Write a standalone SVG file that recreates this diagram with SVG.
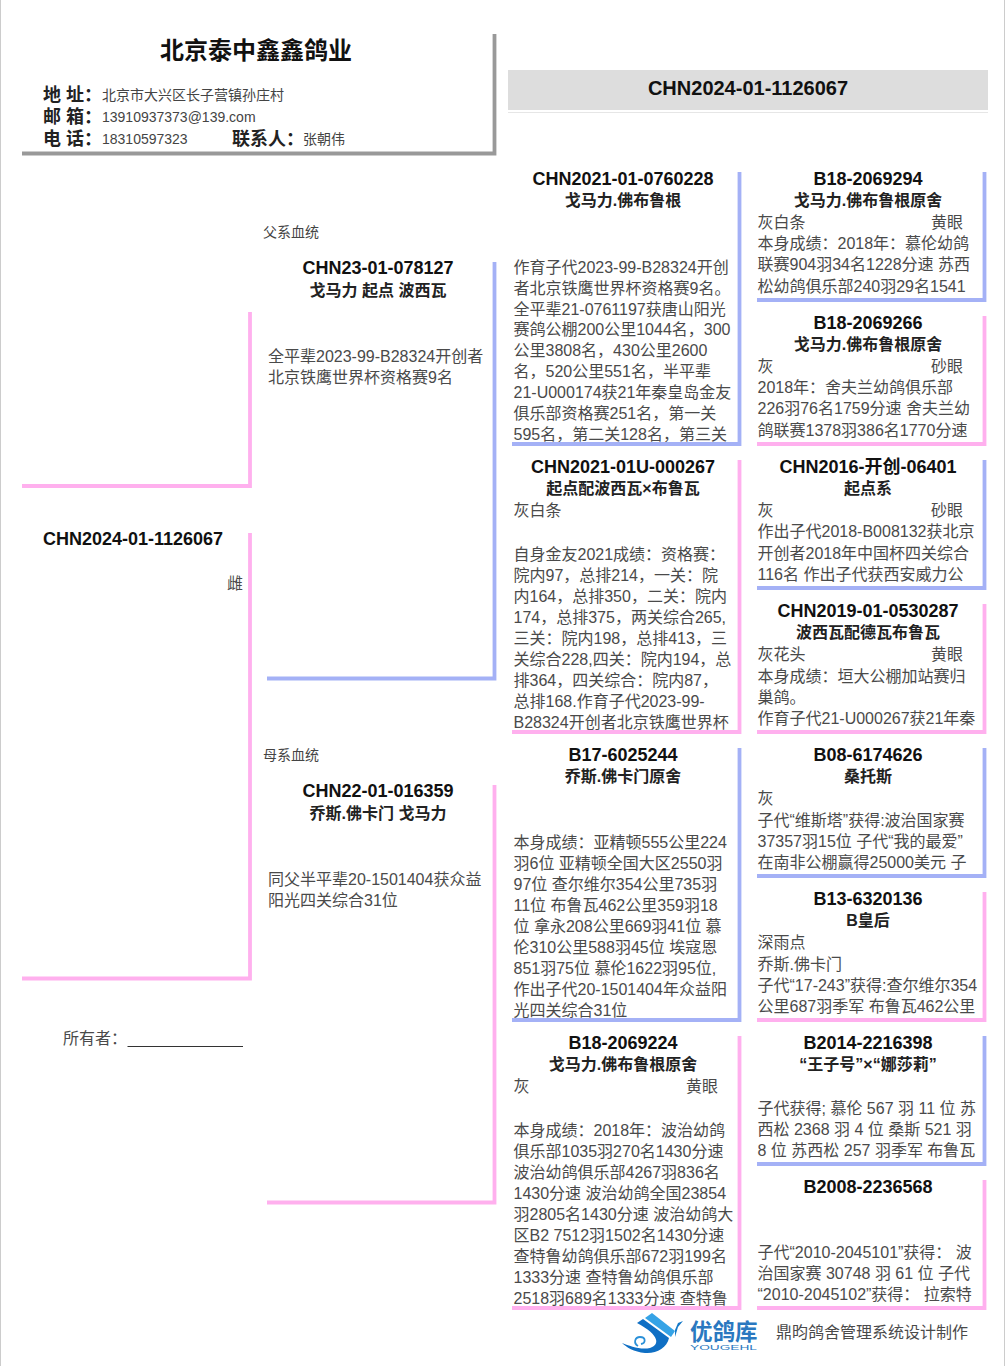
<svg xmlns="http://www.w3.org/2000/svg" width="1006" height="1366" viewBox="0 0 1006 1366">
<style>
text{font-family:"Liberation Sans","Noto Sans CJK SC",sans-serif;fill:#333}
.t{font-size:18px;font-weight:700;fill:#111;text-anchor:middle}
.n{font-size:16px;font-weight:700;fill:#222;text-anchor:middle}
.b{font-size:16px;fill:#4a4a4a}
.s{font-size:14px;fill:#444}
.l{font-size:18px;font-weight:700;fill:#222}
.v{font-size:14px;fill:#444}
.p,.q,.g{fill:none;stroke-width:3.800}
.p{stroke:#ffb0ee}.q{stroke:#a4b1f6}.g{stroke:#999}
</style>
<rect width="1006" height="1366" fill="#fff"/>
<path d="M0.500 0V1366M1004.500 0V1366" stroke="#ccc" fill="none"/>
<g id="farm">
<text x="256" y="59" text-anchor="middle" font-size="24" font-weight="700" style="fill:#111">北京泰中鑫鑫鸽业</text>
<text class="l" x="43" y="101">地 址：</text><text class="v" x="102" y="100">北京市大兴区长子营镇孙庄村</text>
<text class="l" x="43" y="123">邮 箱：</text><text class="v" x="102" y="122">13910937373@139.com</text>
<text class="l" x="43" y="145">电 话：</text><text class="v" x="102" y="144">18310597323</text>
<text class="l" x="232" y="145">联系人：</text><text class="v" x="303" y="144">张朝伟</text>
<path class="g" d="M22 153.500H494.500V34"/>
</g>
<g id="header"><rect x="508" y="70" width="480" height="40" fill="#ddd"/><path d="M508 112.500H988" stroke="#e6e6e6"/>
<text class="t" x="748" y="95" style="font-size:20px">CHN2024-01-1126067</text></g>
<g id="self"><text class="t" x="133" y="545">CHN2024-01-1126067</text><text class="b" x="227" y="589">雌</text></g>
<g id="owner"><text class="b" x="63" y="1044">所有者：</text><path d="M127.500 1046.500H243" stroke="#333"/></g>
<text id="l-f" class="s" x="263" y="237">父系血统</text>
<text id="l-m" class="s" x="263" y="760">母系血统</text>
<g id="sire"><text class="t" x="378" y="274">CHN23-01-078127</text><text class="n" x="378" y="296">戈马力 起点 波西瓦</text>
<text class="b"><tspan x="268" y="362">全平辈2023-99-B28324开创者</tspan><tspan x="268" y="383">北京铁鹰世界杯资格赛9名</tspan></text></g>
<g id="dam"><text class="t" x="378" y="797">CHN22-01-016359</text><text class="n" x="378" y="819">乔斯.佛卡门 戈马力</text>
<text class="b"><tspan x="268" y="885">同父半平辈20-1501404获众益</tspan><tspan x="268" y="906">阳光四关综合31位</tspan></text></g>
<g id="ss"><text class="t" x="623" y="185">CHN2021-01-0760228</text><text class="n" x="623" y="206">戈马力.佛布鲁根</text>
<text class="b"><tspan x="513.500" y="273">作育子代2023-99-B28324开创</tspan><tspan x="513.500" y="294">者北京铁鹰世界杯资格赛9名。</tspan><tspan x="513.500" y="315">全平辈21-0761197获唐山阳光</tspan><tspan x="513.500" y="335">赛鸽公棚200公里1044名，300</tspan><tspan x="513.500" y="356">公里3808名，430公里2600</tspan><tspan x="513.500" y="377">名，520公里551名，半平辈</tspan><tspan x="513.500" y="398">21-U000174获21年秦皇岛金友</tspan><tspan x="513.500" y="419">俱乐部资格赛251名，第一关</tspan><tspan x="513.500" y="440">595名，第二关128名，第三关</tspan></text></g>
<g id="sd"><text class="t" x="623" y="473">CHN2021-01U-000267</text><text class="n" x="623" y="494">起点配波西瓦×布鲁瓦</text>
<text class="b"><tspan x="513.500" y="516">灰白条</tspan><tspan x="513.500" y="560">自身金友2021成绩：资格赛：</tspan><tspan x="513.500" y="581">院内97，总排214，一关：院</tspan><tspan x="513.500" y="602">内164，总排350，二关：院内</tspan><tspan x="513.500" y="623">174，总排375，两关综合265,</tspan><tspan x="513.500" y="644">三关：院内198，总排413，三</tspan><tspan x="513.500" y="665">关综合228,四关：院内194，总</tspan><tspan x="513.500" y="686">排364，四关综合：院内87，</tspan><tspan x="513.500" y="707">总排168.作育子代2023-99-</tspan><tspan x="513.500" y="728">B28324开创者北京铁鹰世界杯</tspan></text></g>
<g id="ds"><text class="t" x="623" y="761">B17-6025244</text><text class="n" x="623" y="782">乔斯.佛卡门原舍</text>
<text class="b"><tspan x="513.500" y="848">本身成绩：亚精顿555公里224</tspan><tspan x="513.500" y="869">羽6位 亚精顿全国大区2550羽</tspan><tspan x="513.500" y="890">97位 查尔维尔354公里735羽</tspan><tspan x="513.500" y="911">11位 布鲁瓦462公里359羽18</tspan><tspan x="513.500" y="932">位 拿永208公里669羽41位 慕</tspan><tspan x="513.500" y="953">伦310公里588羽45位 埃寇恩</tspan><tspan x="513.500" y="974">851羽75位 慕伦1622羽95位,</tspan><tspan x="513.500" y="995">作出子代20-1501404年众益阳</tspan><tspan x="513.500" y="1016">光四关综合31位</tspan></text></g>
<g id="dd"><text class="t" x="623" y="1049">B18-2069224</text><text class="n" x="623" y="1070">戈马力.佛布鲁根原舍</text>
<text class="b"><tspan x="513.500" y="1092">灰</tspan><tspan x="686" y="1092">黄眼</tspan><tspan x="513.500" y="1136">本身成绩：2018年：波治幼鸽</tspan><tspan x="513.500" y="1157">俱乐部1035羽270名1430分速</tspan><tspan x="513.500" y="1178">波治幼鸽俱乐部4267羽836名</tspan><tspan x="513.500" y="1199">1430分速 波治幼鸽全国23854</tspan><tspan x="513.500" y="1220">羽2805名1430分速 波治幼鸽大</tspan><tspan x="513.500" y="1241">区B2 7512羽1502名1430分速</tspan><tspan x="513.500" y="1262">查特鲁幼鸽俱乐部672羽199名</tspan><tspan x="513.500" y="1283">1333分速 查特鲁幼鸽俱乐部</tspan><tspan x="513.500" y="1304">2518羽689名1333分速 查特鲁</tspan></text></g>
<g id="a1"><text class="t" x="868" y="185">B18-2069294</text><text class="n" x="868" y="206">戈马力.佛布鲁根原舍</text>
<text class="b"><tspan x="757.500" y="228">灰白条</tspan><tspan x="931" y="228">黄眼</tspan><tspan x="757.500" y="249">本身成绩：2018年：慕伦幼鸽</tspan><tspan x="757.500" y="270">联赛904羽34名1228分速 苏西</tspan><tspan x="757.500" y="292">松幼鸽俱乐部240羽29名1541</tspan></text></g>
<g id="a2"><text class="t" x="868" y="329">B18-2069266</text><text class="n" x="868" y="350">戈马力.佛布鲁根原舍</text>
<text class="b"><tspan x="757.500" y="372">灰</tspan><tspan x="931" y="372">砂眼</tspan><tspan x="757.500" y="393">2018年：舍夫兰幼鸽俱乐部</tspan><tspan x="757.500" y="414">226羽76名1759分速 舍夫兰幼</tspan><tspan x="757.500" y="436">鸽联赛1378羽386名1770分速</tspan></text></g>
<g id="a3"><text class="t" x="868" y="473">CHN2016-开创-06401</text><text class="n" x="868" y="494">起点系</text>
<text class="b"><tspan x="757.500" y="516">灰</tspan><tspan x="931" y="516">砂眼</tspan><tspan x="757.500" y="537">作出子代2018-B008132获北京</tspan><tspan x="757.500" y="559">开创者2018年中国杯四关综合</tspan><tspan x="757.500" y="580">116名 作出子代获西安威力公</tspan></text></g>
<g id="a4"><text class="t" x="868" y="617">CHN2019-01-0530287</text><text class="n" x="868" y="638">波西瓦配德瓦布鲁瓦</text>
<text class="b"><tspan x="757.500" y="660">灰花头</tspan><tspan x="931" y="660">黄眼</tspan><tspan x="757.500" y="682">本身成绩：垣大公棚加站赛归</tspan><tspan x="757.500" y="703">巢鸽。</tspan><tspan x="757.500" y="724">作育子代21-U000267获21年秦</tspan></text></g>
<g id="a5"><text class="t" x="868" y="761">B08-6174626</text><text class="n" x="868" y="782">桑托斯</text>
<text class="b"><tspan x="757.500" y="804">灰</tspan><tspan x="757.500" y="826">子代“维斯塔”获得:波治国家赛</tspan><tspan x="757.500" y="847">37357羽15位 子代“我的最爱”</tspan><tspan x="757.500" y="868">在南非公棚赢得25000美元 子</tspan></text></g>
<g id="a6"><text class="t" x="868" y="905">B13-6320136</text><text class="n" x="868" y="926">B皇后</text>
<text class="b"><tspan x="757.500" y="948">深雨点</tspan><tspan x="757.500" y="970">乔斯.佛卡门</tspan><tspan x="757.500" y="991">子代“17-243”获得:查尔维尔354</tspan><tspan x="757.500" y="1012">公里687羽季军 布鲁瓦462公里</tspan></text></g>
<g id="a7"><text class="t" x="868" y="1049">B2014-2216398</text><text class="n" x="868" y="1070">“王子号”×“娜莎莉”</text>
<text class="b"><tspan x="757.500" y="1114">子代获得; 慕伦 567 羽 11 位 苏</tspan><tspan x="757.500" y="1135">西松 2368 羽 4 位 桑斯 521 羽</tspan><tspan x="757.500" y="1156">8 位 苏西松 257 羽季军 布鲁瓦</tspan></text></g>
<g id="a8"><text class="t" x="868" y="1193">B2008-2236568</text>
<text class="b"><tspan x="757.500" y="1258">子代“2010-2045101”获得： 波</tspan><tspan x="757.500" y="1279">治国家赛 30748 羽 61 位 子代</tspan><tspan x="757.500" y="1300">“2010-2045102”获得： 拉索特</tspan></text></g>
<g id="connectors">
<path class="p" d="M22 486H250V312"/><path class="p" d="M22 978.500H250V533"/>
<path class="q" d="M267 678.500H494.500V262"/><path class="p" d="M267 1202.500H494.500V785"/>
<path class="q" d="M512 444H739.500V172"/><path class="p" d="M512 732H739.500V460"/><path class="q" d="M512 1020H739.500V748"/><path class="p" d="M512 1308H739.500V1036"/>
<path class="q" d="M757 300H984.500V172"/><path class="p" d="M757 444H984.500V316"/><path class="q" d="M757 588H984.500V460"/><path class="p" d="M757 732H984.500V604"/><path class="q" d="M757 876H984.500V748"/><path class="p" d="M757 1020H984.500V892"/><path class="q" d="M757 1164H984.500V1036"/><path class="p" d="M757 1308H984.500V1180"/>
</g>
<g id="logo">
<path d="M645 1318L652 1313L675 1331L671 1337Z" fill="#35a3e6"/>
<path d="M637 1323L643 1319L669 1338C667 1348 656 1354 645 1353C634 1352 626 1347 622 1343C630 1346 640 1350 650 1348C660 1345 660 1335 637 1323Z" fill="#0f6fc4"/>
<path d="M675 1330L678 1323L683 1321L678 1327L675 1337Z" fill="#1579c8"/>
<path d="M638 1346C633 1343 635 1337 640 1337C646 1337 646 1343 641 1344" fill="none" stroke="#2a90d8" stroke-width="1.800"/>
<text x="690" y="1340" font-size="22.500" font-weight="700" style="fill:#2a78c0">优鸽库</text>
<text x="690" y="1350" font-size="7" textLength="67" lengthAdjust="spacingAndGlyphs" style="fill:#2a78c0">YOUGEHL</text>
</g>
<text id="credit" class="b" x="776" y="1338">鼎昀鸽舍管理系统设计制作</text>
</svg>
